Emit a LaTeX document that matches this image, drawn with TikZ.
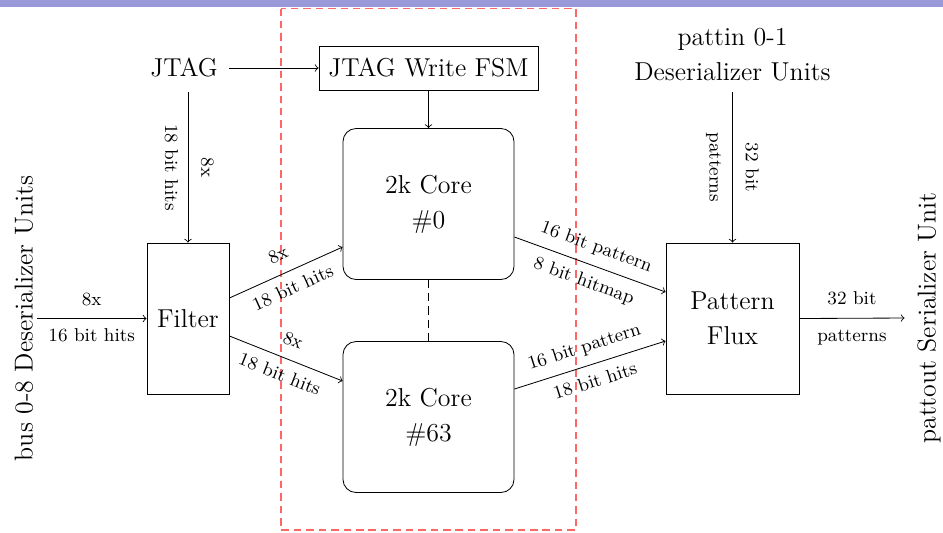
\documentclass[tikz,border=0pt]{standalone}
\newlength\pxu
\setlength\pxu{0.169671mm}
\definecolor{bandblue}{RGB}{153,153,217}
\definecolor{regionred}{RGB}{255,102,102}
\tikzset{
  mainfont/.style={font=\fontsize{12.5}{17}\selectfont},
  lbl/.style={font=\fontsize{9}{10}\selectfont, inner sep=4.5pt,
    text height=6.3pt, text depth=1.8pt},
  plain/.style={mainfont, align=center},
  blockbox/.style={draw, mainfont, align=center, inner sep=0pt},
  corebox/.style={blockbox, rounded corners=6.3pt,
    minimum width=171*\pxu, minimum height=151*\pxu},
  link/.style={->},
  regionline/.style={regionred, line width=0.8pt, dash pattern=on 3.6pt off 2.4pt},
  gapline/.style={dash pattern=on 4pt off 2.4pt},
}
\begin{document}
\begin{tikzpicture}[x=0.169671mm, y=-0.169671mm]
  \useasboundingbox (0,0) rectangle (943,532);
  % header band
  \fill[bandblue] (0,0) rectangle (943,7);
  % dashed region around the cores
  \draw[regionline] (281,8.5) rectangle (576,530);

  % blocks
  \node[blockbox, minimum width=219*\pxu, minimum height=44*\pxu] (fsm) at (428.5,68) {JTAG Write FSM};
  \node[plain, inner xsep=5.3pt, inner ysep=7pt] (jtag) at (184,68) {JTAG};
  \node[blockbox, minimum width=82*\pxu, minimum height=151*\pxu] (filter) at (188,318.5) {Filter};
  \node[corebox] (core0) at (428.5,204) {2k Core\\\#0};
  \node[corebox] (core63) at (428.5,417) {2k Core\\\#63};
  \node[blockbox, minimum width=133*\pxu, minimum height=151*\pxu] (flux) at (732.5,318.5) {Pattern\\Flux};
  \node[plain, inner sep=5pt] (pattin) at (732.5,55) {pattin 0-1\\Deserializer Units};
  \node[plain, rotate=90, inner sep=1.5pt] (bus) at (24,318.5) {bus 0-8 Deserializer Units};
  \node[plain, rotate=90, inner xsep=2pt, inner ysep=6pt] (pattout) at (929,318) {pattout Serializer Unit};

  % connectors
  \draw[link] (jtag.east) -- (fsm.west);
  \draw[link] (filter.north |- jtag.south) -- node[lbl, sloped, above] {8x} node[lbl, sloped, below] {18 bit hits} (filter.north);
  \draw[link] (fsm.south) -- (core0.north);
  \draw[gapline] (core0.south) -- (core63.north);
  \draw[link] (bus.south) -- node[lbl, above] {8x} node[lbl, below] {16 bit hits} (filter.west);
  \draw[link] ([yshift=20.5*\pxu]filter.east) -- node[lbl, sloped, above] {8x} node[lbl, sloped, below] {18 bit hits} ([yshift=-43*\pxu]core0.west);
  \draw[link] ([yshift=-17.5*\pxu]filter.east) -- node[lbl, sloped, above] {8x} node[lbl, sloped, below] {18 bit hits} ([yshift=36*\pxu]core63.west);
  \draw[link] ([yshift=-33*\pxu]core0.east) -- node[lbl, sloped, above] {16 bit pattern} node[lbl, sloped, below] {8 bit hitmap} ([yshift=26.5*\pxu]flux.west);
  \draw[link] ([yshift=28*\pxu]core63.east) -- node[lbl, sloped, above] {16 bit pattern} node[lbl, sloped, below] {18 bit hits} ([yshift=-22.5*\pxu]flux.west);
  \draw[link] (pattin.south) -- node[lbl, sloped, above] {32 bit} node[lbl, sloped, below] {patterns} (flux.north);
  \draw[link] (flux.east) -- node[lbl, above] {32 bit} node[lbl, below] {patterns} (pattout.north);
\end{tikzpicture}
\end{document}
